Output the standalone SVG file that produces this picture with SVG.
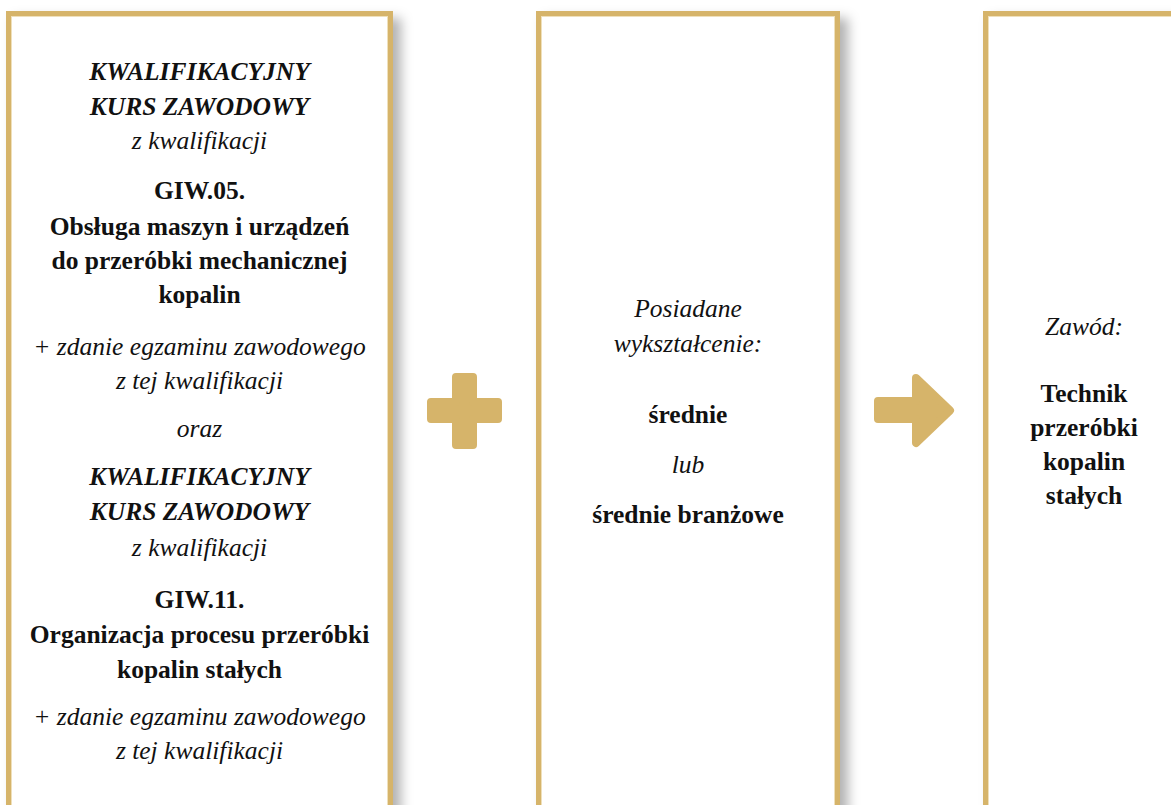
<svg xmlns="http://www.w3.org/2000/svg" width="1171" height="805" viewBox="0 0 1171 805">
<defs>
<filter id="sh" x="-10%" y="-10%" width="130%" height="130%">
<feDropShadow dx="8" dy="7" stdDeviation="6" flood-color="#000" flood-opacity="0.3"/>
</filter>
</defs>
<style>
.box{fill:#fff;stroke:#d6b46a;stroke-width:5}
.inner{fill:none;stroke:#efe0bb;stroke-width:1}
.sym{fill:#d6b46a;stroke:#d6b46a;stroke-width:8;stroke-linejoin:round}
text{font-family:"Liberation Serif","Times New Roman",serif;font-size:25.5px;fill:#111;text-anchor:middle}
.i{font-style:italic}
.b{font-weight:bold}
.bi{font-weight:bold;font-style:italic}
</style>
<rect width="1171" height="805" fill="#fff"/>
<g id="node-kursy">
<rect class="box" x="8.5" y="13.5" width="382" height="830" filter="url(#sh)"/>
<rect class="inner" x="11.5" y="16.5" width="376" height="830"/>
<text x="199.5" y="80" class="bi">KWALIFIKACYJNY</text>
<text x="199.5" y="114.5" class="bi">KURS ZAWODOWY</text>
<text x="199.5" y="148.5" class="i">z kwalifikacji</text>
<text x="199.5" y="199" class="b">GIW.05.</text>
<text x="199.5" y="234.5" class="b">Obsługa maszyn i urządzeń</text>
<text x="199.5" y="269" class="b">do przeróbki mechanicznej</text>
<text x="199.5" y="303" class="b">kopalin</text>
<text x="199.5" y="355" class="i">+ zdanie egzaminu zawodowego</text>
<text x="199.5" y="388.5" class="i">z tej kwalifikacji</text>
<text x="199.5" y="437" class="i">oraz</text>
<text x="199.5" y="485" class="bi">KWALIFIKACYJNY</text>
<text x="199.5" y="520" class="bi">KURS ZAWODOWY</text>
<text x="199.5" y="556" class="i">z kwalifikacji</text>
<text x="199.5" y="607.5" class="b">GIW.11.</text>
<text x="199.5" y="642.5" class="b">Organizacja procesu przeróbki</text>
<text x="199.5" y="677.5" class="b">kopalin stałych</text>
<text x="199.5" y="725" class="i">+ zdanie egzaminu zawodowego</text>
<text x="199.5" y="759" class="i">z tej kwalifikacji</text>
</g>
<g id="node-wyksztalcenie">
<rect class="box" x="538.5" y="13.5" width="299" height="830" filter="url(#sh)"/>
<rect class="inner" x="541.5" y="16.5" width="293" height="830"/>
<text x="688" y="317" class="i">Posiadane</text>
<text x="688" y="352" class="i">wykształcenie:</text>
<text x="688" y="423" class="b">średnie</text>
<text x="688" y="473" class="i">lub</text>
<text x="688" y="523" class="b">średnie branżowe</text>
</g>
<g id="node-zawod">
<rect class="box" x="985.5" y="13.5" width="200" height="830" filter="url(#sh)"/>
<rect class="inner" x="988.5" y="16.5" width="194" height="830"/>
<text x="1084" y="335" class="i">Zawód:</text>
<text x="1084" y="402" class="b">Technik</text>
<text x="1084" y="436" class="b">przeróbki</text>
<text x="1084" y="470" class="b">kopalin</text>
<text x="1084" y="504" class="b">stałych</text>
</g>
<g id="connectors">
<path id="plus" class="sym" d="M456,377 H473 V402 H498 V419 H473 V445 H456 V419 H431 V402 H456 Z"/>
<path id="arrow" class="sym" d="M878,401 H916 V378 L950,410.5 L916,443 V419 H878 Z"/>
</g>
</svg>
